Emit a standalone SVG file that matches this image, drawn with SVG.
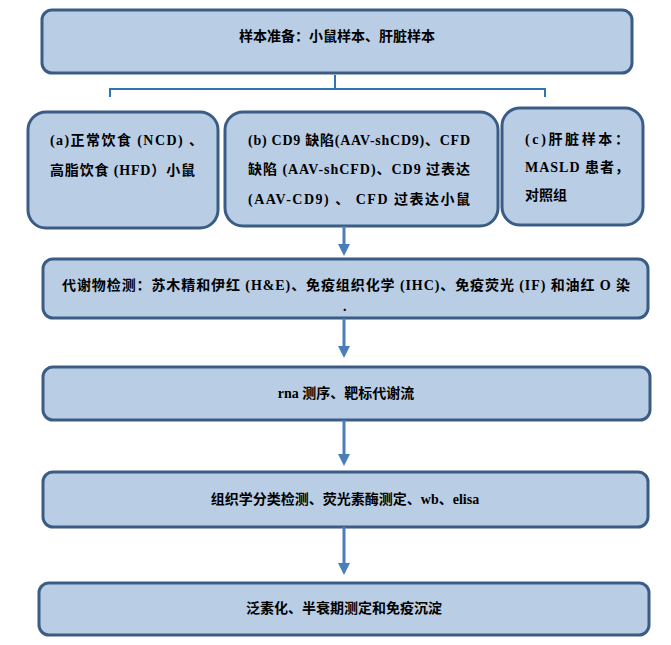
<svg xmlns="http://www.w3.org/2000/svg" width="671" height="645" viewBox="0 0 671 645">
<style>
.b{fill:#b9cde5;stroke:#3b5c84;stroke-width:3}
.t{font-family:"Liberation Serif","Noto Sans CJK SC",serif;font-size:14px;font-weight:bold;fill:#000}
.c{stroke:#4a7ebb;stroke-width:3;fill:none}
</style>
<defs><marker id="ah" markerWidth="4" markerHeight="4" refX="2" refY="2" orient="auto" markerUnits="strokeWidth"><path d="M0,0 L4,2 L0,4 Z" fill="#4a7ebb"/></marker></defs>
<g id="n1"><rect class="b" x="42" y="10" width="590" height="63" rx="10"/><text class="t" x="337" y="41" text-anchor="middle">样本准备：小鼠样本、肝脏样本</text></g>
<g id="n2"><rect class="b" x="28" y="112" width="190" height="116" rx="18"/><text class="t" x="50" y="145" textLength="153">(a)正常饮食 (NCD) 、</text><text class="t" x="50" y="175" textLength="145">高脂饮食 (HFD）小鼠</text></g>
<g id="n3"><rect class="b" x="225" y="112" width="273" height="114" rx="18"/><text class="t" x="248" y="145" textLength="222">(b) CD9 缺陷(AAV-shCD9)、CFD</text><text class="t" x="248" y="174" textLength="222">缺陷 (AAV-shCFD)、CD9 过表达</text><text class="t" x="248" y="204" textLength="222">(AAV-CD9) 、 CFD 过表达小鼠</text></g>
<g id="n4"><rect class="b" x="502" y="108" width="141" height="117" rx="18"/><text class="t" x="525" y="144" textLength="104">(c)肝脏样本：</text><text class="t" x="525" y="172" textLength="104">MASLD 患者，</text><text class="t" x="525" y="200">对照组</text></g>
<g id="n5"><rect class="b" x="43" y="259" width="605" height="59" rx="10"/><text class="t" x="62" y="290" textLength="568">代谢物检测：苏木精和伊红 (H&amp;E)、免疫组织化学 (IHC)、免疫荧光 (IF) 和油红 O 染</text><text class="t" x="343" y="311">.</text></g>
<g id="n6"><rect class="b" x="43" y="367" width="607" height="53" rx="10"/><text class="t" x="346" y="398" text-anchor="middle">rna 测序、靶标代谢流</text></g>
<g id="n7"><rect class="b" x="43" y="472" width="605" height="55" rx="10"/><text class="t" x="345" y="504" text-anchor="middle">组织学分类检测、荧光素酶测定、wb、elisa</text></g>
<g id="n8"><rect class="b" x="39" y="583" width="610" height="52" rx="10"/><text class="t" x="344" y="613" text-anchor="middle">泛素化、半衰期测定和免疫沉淀</text></g>
<g id="connectors">
<path d="M110,97 V89 H545 V97 M335,89 V75" stroke="#2e75b6" stroke-width="2" fill="none"/>
<path class="c" d="M344,226 V250" marker-end="url(#ah)"/>
<path class="c" d="M344,318 V352" marker-end="url(#ah)"/>
<path class="c" d="M344,420 V460" marker-end="url(#ah)"/>
<path class="c" d="M344,527 V569" marker-end="url(#ah)"/>
</g>
</svg>
